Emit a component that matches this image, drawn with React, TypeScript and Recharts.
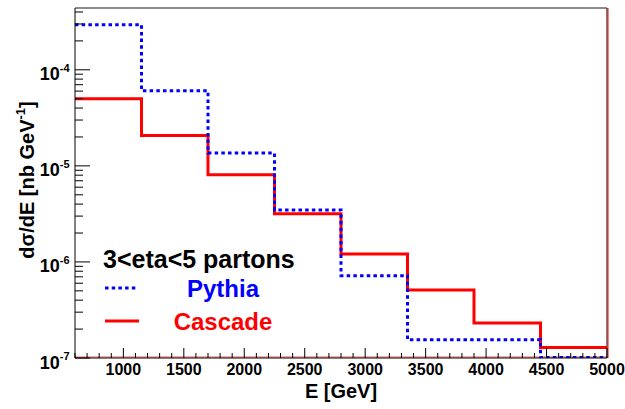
import React from "react";
import { LineChart, Line, XAxis, YAxis, ReferenceLine, Label } from "recharts";

// Bin edges of the energy histogram [GeV]
const binEdges = [600, 1150, 1700, 2250, 2800, 3350, 3900, 4450, 5000];
// dσ/dE per bin [nb GeV^-1]
const pythiaValues = [2.95e-4, 6.05e-5, 1.36e-5, 3.48e-6, 7.2e-7, 1.55e-7, 1.55e-7, 1.01e-7];
const cascadeValues = [5.0e-5, 2.07e-5, 8.1e-6, 3.18e-6, 1.21e-6, 5.1e-7, 2.32e-7, 1.29e-7];

const xTickValues = Array.from({ length: 45 }, (_, i) => 600 + i * 100);
const yDecades = [-7, -6, -5, -4];
const Y_MIN = 1e-7;
const Y_MAX = 4.4e-4;

const BLUE = "#0000ff";
const RED = "#ff0000";
const FONT = "'Liberation Sans', Arial, Helvetica, sans-serif";

// One point per bin edge; the last edge repeats the final bin so stepAfter closes it
const rows = binEdges.map((e, i) => {
  const k = Math.min(i, pythiaValues.length - 1);
  return { e, pythia: pythiaValues[k], cascade: cascadeValues[k] };
});

const yTickValues: number[] = [];
yDecades.forEach((p) => {
  for (let d = 1; d <= 9; d++) {
    const v = d * Math.pow(10, p);
    if (v >= Y_MIN * 0.999 && v <= Y_MAX) yTickValues.push(v);
  }
});

const isDecade = (v: number) => {
  const l = Math.log10(v);
  return Math.abs(l - Math.round(l)) < 1e-6;
};

const XTick = (props: any) => {
  const { x, y, payload } = props;
  const v = payload.value as number;
  const major = v % 500 === 0;
  return (
    <g>
      <line x1={x} x2={x} y1={y} y2={y - (major ? 10 : 5)} stroke="#000" strokeWidth={1} />
      {major && (
        <text x={x} y={y + 17} textAnchor="middle" fontFamily={FONT} fontWeight="bold" fontSize={16} fill="#000">
          {v}
        </text>
      )}
    </g>
  );
};

const YTick = (props: any) => {
  const { x, y, payload } = props;
  const v = payload.value as number;
  const major = isDecade(v);
  const exp = Math.round(Math.log10(v));
  return (
    <g>
      <line x1={x} x2={x + (major ? 15 : 8)} y1={y} y2={y} stroke="#000" strokeWidth={1} />
      {major && (
        <text x={x - 5.5} y={y + 10.5} textAnchor="end" fontFamily={FONT} fontWeight="bold" fontSize={18} fill="#000">
          <tspan>10</tspan>
          <tspan dy={-8.5} fontSize={11}>{exp}</tspan>
        </text>
      )}
    </g>
  );
};

const YTitle = (props: any) => {
  const vb = props.viewBox || { x: 0, y: 8, width: 75, height: 350 };
  const cx = 33.5;
  const cy = vb.y + vb.height / 2 - 3;
  return (
    <text
      transform={`translate(${cx},${cy}) rotate(-90)`}
      textAnchor="middle"
      fontFamily={FONT}
      fontWeight="bold"
      fontSize={20}
      fill="#000"
    >
      <tspan>dσ/dE [nb GeV</tspan>
      <tspan dy={-9} fontSize={13}>-1</tspan>
      <tspan dy={9}>]</tspan>
    </text>
  );
};

const XTitle = (props: any) => {
  const vb = props.viewBox || { x: 75, y: 358, width: 532, height: 51 };
  return (
    <text x={vb.x + vb.width / 2} y={vb.y + 40} textAnchor="middle" fontFamily={FONT} fontWeight="bold" fontSize={20} fill="#000">
      E [GeV]
    </text>
  );
};

const series = [
  { key: "pythia", name: "Pythia", color: BLUE, dash: "3.5 3.2" },
  { key: "cascade", name: "Cascade", color: RED, dash: undefined as string | undefined },
];

const LegendBox = () => (
  <svg width={625} height={409} style={{ position: "absolute", left: 0, top: 0, pointerEvents: "none" }}>
    <text x={103} y={268} fontFamily={FONT} fontWeight="bold" fontSize={25} fill="#000">
      3&lt;eta&lt;5 partons
    </text>
    {series.map((s, i) => (
      <g key={s.key}>
        <line
          x1={105}
          x2={i === 0 ? 137 : 139}
          y1={288 + i * 33}
          y2={288 + i * 33}
          stroke={s.color}
          strokeWidth={3}
          strokeDasharray={s.dash}
        />
        <text x={223} y={297 + i * 33} textAnchor="middle" fontFamily={FONT} fontWeight="bold" fontSize={24} fill={s.color}>
          {s.name}
        </text>
      </g>
    ))}
  </svg>
);

export default function App() {
  return (
    <div style={{ position: "absolute", left: 0, top: 0, width: 625, height: 409, background: "#fff" }}>
      <LineChart width={625} height={409} data={rows} margin={{ top: 8, right: 18, left: 0, bottom: 0 }}>
        <XAxis
          dataKey="e"
          type="number"
          domain={[600, 5000]}
          allowDataOverflow
          ticks={xTickValues}
          interval={0}
          tickSize={0}
          tickMargin={0}
          tickLine={false}
          tick={<XTick />}
          height={51}
          axisLine={{ stroke: "#000", strokeWidth: 1 }}
        >
          <Label content={<XTitle />} />
        </XAxis>
        <YAxis
          type="number"
          scale="log"
          domain={[Y_MIN, Y_MAX]}
          allowDataOverflow
          ticks={yTickValues}
          interval={0}
          tickSize={0}
          tickMargin={0}
          tickLine={false}
          tick={<YTick />}
          width={75}
          axisLine={{ stroke: "#000", strokeWidth: 1 }}
        >
          <Label content={<YTitle />} />
        </YAxis>
        {/* frame: top and right borders */}
        <ReferenceLine y={Y_MAX} stroke="#666" strokeWidth={1.5} ifOverflow="extendDomain" />
        <ReferenceLine x={5000} stroke="#000" strokeWidth={1} />
        <ReferenceLine
          x={5000}
          stroke={RED}
          strokeWidth={1}
          shape={(p: any) => <line x1={p.x1 + 1} x2={p.x2 + 1} y1={p.y1} y2={p.y2} stroke={RED} strokeWidth={1} />}
        />
        <ReferenceLine
          y={Y_MIN}
          stroke={RED}
          strokeWidth={1}
          shape={(p: any) => <line x1={p.x1} x2={p.x2} y1={p.y1 - 1} y2={p.y2 - 1} stroke={RED} strokeOpacity={0.7} strokeWidth={1} />}
        />
        <Line
          dataKey="cascade"
          name="Cascade"
          type="stepAfter"
          stroke={RED}
          strokeWidth={3}
          dot={false}
          activeDot={false}
          isAnimationActive={false}
        />
        <Line
          dataKey="pythia"
          name="Pythia"
          type="stepAfter"
          stroke={BLUE}
          strokeWidth={3}
          strokeDasharray="3.5 3.2"
          dot={false}
          activeDot={false}
          isAnimationActive={false}
        />
      </LineChart>
      <LegendBox />
    </div>
  );
}
